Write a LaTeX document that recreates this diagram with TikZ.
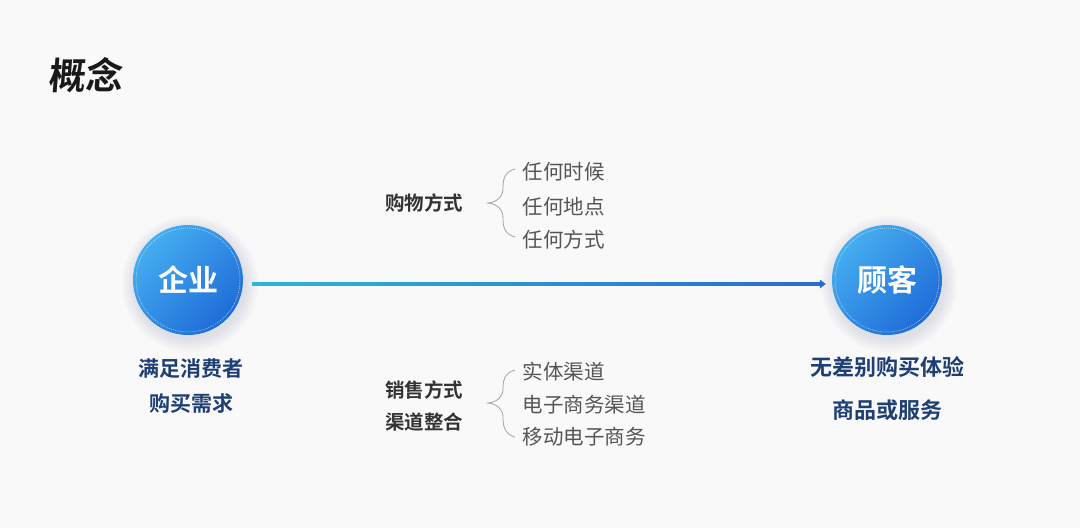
\documentclass[tikz,border=0pt]{standalone}
\usepackage{fontspec}
\setmainfont{Noto Sans CJK SC}
\newfontfamily\cjkb{Noto Sans CJK SC Bold}
\newfontfamily\cjkt[FakeSlant=0.08]{Noto Sans CJK SC Bold}
\usetikzlibrary{calc}
\definecolor{bgc}{HTML}{F9F9FA}
\definecolor{navy}{HTML}{1E3F73}
\definecolor{grayt}{HTML}{555555}
\definecolor{darkt}{HTML}{333333}
\definecolor{circA}{HTML}{45AEF0}
\definecolor{circB}{HTML}{1F6CD8}
\definecolor{arrA}{HTML}{2CB6D8}
\definecolor{arrB}{HTML}{2A6BD0}
\definecolor{bracec}{HTML}{9AA4B0}
\definecolor{shadc}{HTML}{8A96A8}
\begin{document}
\begin{tikzpicture}[x=1pt,y=-1pt,
  ball/.style={circle,minimum size=110pt,inner sep=0pt,shading=axis,
    left color=circA,right color=circB,shading angle=45,
    font=\cjkb\fontsize{30}{30}\selectfont,text=white},
  ring/.style={draw=white,dashed,dash pattern=on 1pt off 1pt,line width=0.5pt,opacity=0.7},
  navytext/.style={font=\cjkb\fontsize{22}{22}\selectfont,text=navy},
  headtext/.style={font=\cjkb\fontsize{19.5}{19.5}\selectfont,text=darkt},
  itemtext/.style={font=\fontsize{20.5}{20.5}\selectfont,text=grayt,anchor=west},
  bracel/.style={draw=bracec,line width=0.8pt}]
\fill[bgc] (0,0) rectangle (1080,528);
\useasboundingbox (0,0) rectangle (1080,528);

% title
\node[font=\cjkt\fontsize{37}{37}\selectfont,text=black!90,anchor=west] (title) at (45,75) {概念};

% soft shadows
\foreach \r in {68,66,...,56}{
  \fill[shadc,opacity=0.035] (190,284) circle (\r);
  \fill[shadc,opacity=0.035] (889,284) circle (\r);
}
\node[ball] (qy) at (188,280) {企业};
\node[ball] (gk) at (887,280) {顾客};
\draw[ring] (qy.center) circle (52);
\draw[ring] (gk.center) circle (52);

% arrow
\coordinate (s) at ($(qy.east)+(9,4)$);
\coordinate (e) at ($(gk.west)+(-6,4)$);
\shade[left color=arrA,right color=arrB] ($(s)+(0,-1.7)$) rectangle ($(e)+(-5,1.7)$);
\fill[arrB] ($(e)+(-6,-4.5)$) -- (e) -- ($(e)+(-6,4.5)$) -- cycle;

% bottom texts
\node[navytext,font=\cjkb\fontsize{21}{21}\selectfont] (q1) at (191,369) {满足消费者};
\node[navytext,font=\cjkb\fontsize{21}{21}\selectfont] (q2) at (191,404) {购买需求};
\node[navytext] (g1) at (887,367) {无差别购买体验};
\node[navytext] (g2) at (887,410) {商品或服务};

% upper group
\node[headtext] (h1) at (424,203) {购物方式};
\node[itemtext] (i1) at (519,172) {任何时候};
\node[itemtext] (i2) at (519,207) {任何地点};
\node[itemtext] (i3) at (519,240) {任何方式};
\coordinate (b1t) at (515,169);
\coordinate (b1m) at (488,203);
\coordinate (b1b) at (515,237);
\draw[bracel] (b1t) .. controls (504,172) and (503,180) .. (503,188)
  .. controls (503,197) and (497,202) .. (b1m)
  .. controls (497,204) and (503,209) .. (503,218)
  .. controls (503,226) and (504,234) .. (b1b);

% lower group
\node[headtext] (h2) at (424,390) {销售方式};
\node[headtext] (h3) at (424,422) {渠道整合};
\node[itemtext] (j1) at (519,372) {实体渠道};
\node[itemtext] (j2) at (519,405) {电子商务渠道};
\node[itemtext] (j3) at (519,437) {移动电子商务};
\coordinate (b2t) at (515,370);
\coordinate (b2m) at (488,403);
\coordinate (b2b) at (515,437);
\draw[bracel] (b2t) .. controls (504,373) and (503,381) .. (503,389)
  .. controls (503,397) and (497,402) .. (b2m)
  .. controls (497,404) and (503,409) .. (503,417)
  .. controls (503,425) and (504,434) .. (b2b);
\end{tikzpicture}
\end{document}
